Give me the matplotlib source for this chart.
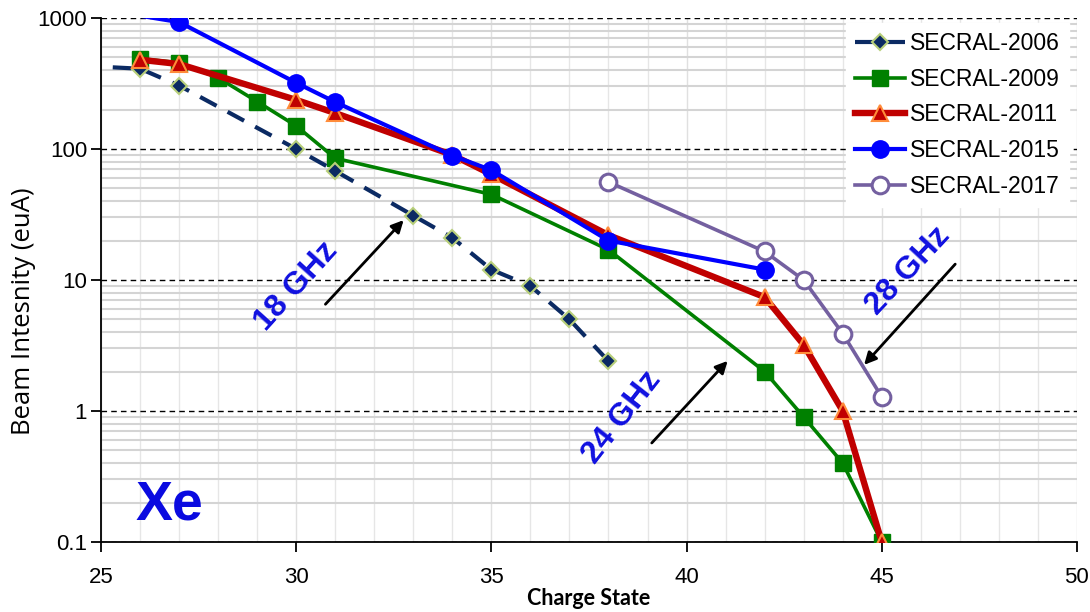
import numpy as np
import matplotlib
matplotlib.use("Agg")
import matplotlib.pyplot as plt
from matplotlib.ticker import LogLocator, FixedLocator, NullFormatter

plt.rcParams['font.family'] = ['Liberation Sans', 'DejaVu Sans']

# data
q2006 = [25.3, 26, 27, 30, 31, 33, 34, 35, 36, 37, 38]
i2006 = [420, 410, 305, 100, 68, 31, 21, 12, 9.0, 5.0, 2.4]

q2009 = [26, 27, 28, 29, 30, 31, 35, 38, 42, 43, 44, 45]
i2009 = [490, 455, 350, 230, 150, 85, 45, 17, 2.0, 0.9, 0.4, 0.1]

q2011 = [26, 27, 30, 31, 34, 35, 38, 42, 43, 44, 45]
i2011 = [480, 445, 237, 188, 90, 64, 22, 7.4, 3.2, 1.0, 0.1]

q2015 = [26, 27, 30, 31, 34, 35, 38, 42]
i2015 = [1040, 930, 320, 228, 89, 69, 20, 12]

q2017 = [38, 42, 43, 44, 45]
i2017 = [56, 16.5, 10, 3.9, 1.28]

fig = plt.figure(figsize=(10.9, 6.12), dpi=100)
ax = fig.add_axes([0.0927, 0.1144, 0.8953, 0.8562])

ax.plot(q2006, i2006, color='#0b2a63', lw=3, dashes=(4.5, 3), marker='D', ms=8,
        mfc='#0b2a63', mec='#b8cf7a', mew=1.5, markevery=list(range(1, len(q2006))),
        label='SECRAL-2006', zorder=5)
ax.plot(q2009, i2009, color='#008000', lw=2.6, marker='s', ms=12,
        mfc='#008000', mec='#008000', label='SECRAL-2009', zorder=4)
ax.plot(q2011, i2011, color='#c00000', lw=4.6, marker='^', ms=11,
        mfc='#c00000', mec='#ff8c3a', mew=1.5, label='SECRAL-2011', zorder=5)
ax.plot(q2015, i2015, color='#0000ff', lw=3, marker='o', ms=12.5,
        mfc='#0000ff', mec='#0000ff', markevery=list(range(1, len(q2015))),
        label='SECRAL-2015', zorder=6)
ax.plot(q2017, i2017, color='#7460a0', lw=2.6, marker='o', ms=12,
        mfc='white', mec='#7460a0', mew=2.2, label='SECRAL-2017', zorder=6)

ax.set_yscale('log')
ax.set_xlim(25, 50)
ax.set_ylim(0.1, 1000)
ax.set_xticks([25, 30, 35, 40, 45, 50])
ax.set_yticks([0.1, 1, 10, 100, 1000])
ax.set_yticklabels(['0.1', '1', '10', '100', '1000'])
ax.xaxis.set_minor_locator(FixedLocator(np.arange(25, 51, 1)))
ax.yaxis.set_minor_locator(LogLocator(base=10, subs=np.arange(2, 10)))
ax.yaxis.set_minor_formatter(NullFormatter())
ax.tick_params(axis='both', which='major', labelsize=16, length=7, width=1.3,
               direction='out')
ax.tick_params(axis='x', which='major', pad=11)
ax.tick_params(axis='y', which='major', pad=3)
ax.tick_params(axis='both', which='minor', length=0)

ax.grid(which='minor', axis='x', color='#e6e6e6', lw=1)
ax.grid(which='major', axis='x', color='#e0e0e0', lw=1)
ax.grid(which='minor', axis='y', color='#d4d4d4', lw=1.5)
ax.grid(which='major', axis='y', color='black', lw=1, ls=(0, (4, 3)))
ax.set_axisbelow(True)

for s in ['top', 'right']:
    ax.spines[s].set_visible(False)
ax.spines['left'].set_linewidth(1.3)
ax.spines['bottom'].set_linewidth(1.3)

ax.set_ylabel('Beam Intesnity (euA)', fontsize=18.5, family=['Open Sans', 'DejaVu Sans'])
ax.yaxis.set_label_coords(-0.067, 0.44)
ax.set_xlabel('Charge State', fontsize=15.5, fontweight='bold',
              family=['Lato', 'DejaVu Sans'], labelpad=0)

leg = ax.legend(loc='upper right', bbox_to_anchor=(1 - 8 / 976, 1 - 5 / 524),
                borderaxespad=0, fontsize=16.5, frameon=True, fancybox=False,
                edgecolor='white', framealpha=1, handlelength=2.2,
                handletextpad=0.2, labelspacing=0.55, borderpad=0.4)

blue = '#1010e0'
ax.text(0.200, 0.487, '18 GHz', transform=ax.transAxes, color=blue, fontsize=23,
        fontweight='bold', rotation=48, ha='center', va='center')
ax.annotate('', xy=(32.8, 29.7), xytext=(30.7, 6.3),
            arrowprops=dict(arrowstyle='-|>', color='black', lw=2, mutation_scale=18))
ax.text(0.534, 0.237, '24 GHz', transform=ax.transAxes, color=blue, fontsize=23,
        fontweight='bold', rotation=52, ha='center', va='center')
ax.annotate('', xy=(41.1, 2.5), xytext=(39.06, 0.55),
            arrowprops=dict(arrowstyle='-|>', color='black', lw=2, mutation_scale=18))
ax.text(0.827, 0.517, '28 GHz', transform=ax.transAxes, color=blue, fontsize=23,
        fontweight='bold', rotation=47, ha='center', va='center')
ax.annotate('', xy=(44.5, 2.17), xytext=(46.93, 13.7),
            arrowprops=dict(arrowstyle='-|>', color='black', lw=2, mutation_scale=18))

ax.text(0.035, 0.042, 'Xe', transform=ax.transAxes, color='#0a0ae0', fontsize=40,
        fontweight='bold', ha='left', va='baseline')

fig.savefig('out.png', dpi=100)
